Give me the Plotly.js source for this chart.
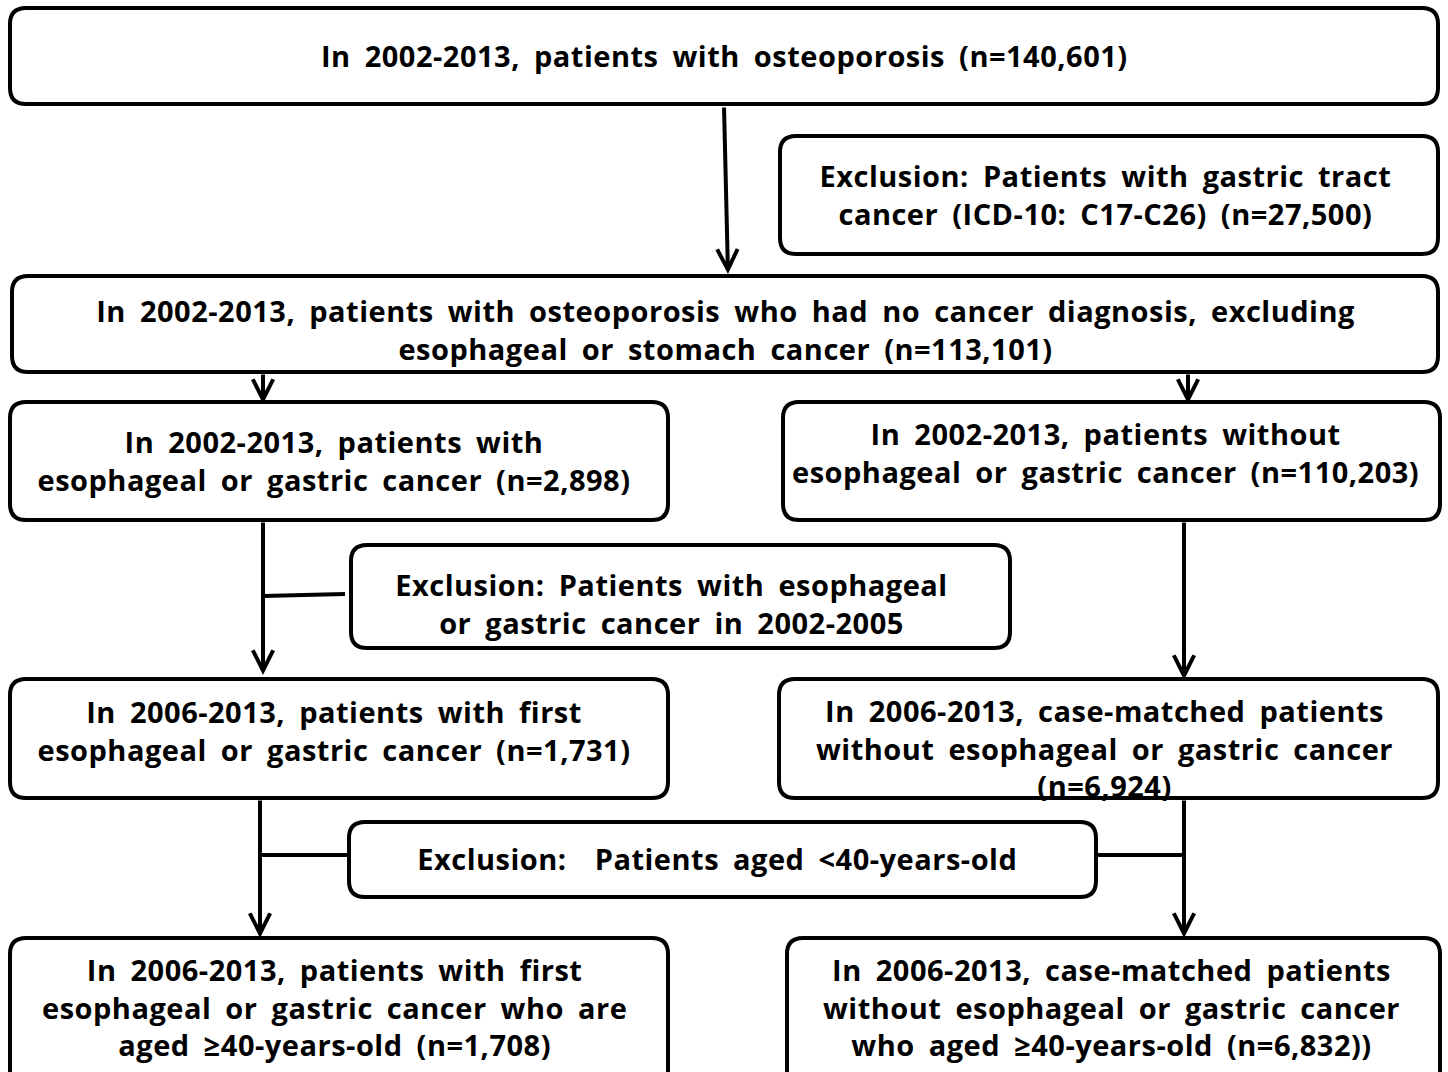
<!DOCTYPE html>
<html>
<head>
<meta charset="utf-8">
<script src="https://cdn.plot.ly/plotly-3.0.1.min.js"></script>
<style>
html,body{margin:0;padding:0;background:#fff;}
#chart{width:1448px;height:1072px;}
#chart .annotation-text{word-spacing:6px;letter-spacing:0.5px;}
</style>
</head>
<body>
<div id="chart"></div>
<script>
// ---- Flowchart content (text of each step) ----
const stepTexts = [
  "In 2002-2013, patients with osteoporosis (n=140,601)",
  "Exclusion: Patients with gastric tract<br>cancer (ICD-10: C17-C26) (n=27,500)",
  "In 2002-2013, patients with osteoporosis who had no cancer diagnosis, excluding<br>esophageal or stomach cancer (n=113,101)",
  "In 2002-2013, patients with<br>esophageal or gastric cancer (n=2,898)",
  "In 2002-2013, patients without<br>esophageal or gastric cancer (n=110,203)",
  "Exclusion: Patients with esophageal<br>or gastric cancer in 2002-2005",
  "In 2006-2013, patients with first<br>esophageal or gastric cancer (n=1,731)",
  "In 2006-2013, case-matched patients<br>without esophageal or gastric cancer<br>(n=6,924)",
  "Exclusion:&nbsp; Patients aged &lt;40-years-old",
  "In 2006-2013, patients with first<br>esophageal or gastric cancer who are<br>aged ≥40-years-old (n=1,708)",
  "In 2006-2013, case-matched patients<br>without esophageal or gastric cancer<br>who aged ≥40-years-old (n=6,832))"
];
const stepCounts = [140601, 27500, 113101, 2898, 110203, null, 1731, 6924, null, 1708, 6832];

// ---- Layout geometry (pixel coordinates on a 1448x1072 canvas) ----
const boxGeom = [
  {x0:10,  x1:1438, y0:8,   y1:104, tx:724,  ty:55},
  {x0:780, x1:1438, y0:136, y1:254, tx:1105, ty:194},
  {x0:12,  x1:1438, y0:276, y1:372, tx:726,  ty:329},
  {x0:10,  x1:668,  y0:402, y1:520, tx:334,  ty:460},
  {x0:783, x1:1440, y0:402, y1:520, tx:1105, ty:452},
  {x0:351, x1:1010, y0:545, y1:648, tx:671,  ty:603},
  {x0:10,  x1:668,  y0:679, y1:798, tx:334,  ty:730},
  {x0:779, x1:1438, y0:679, y1:798, tx:1104, ty:748},
  {x0:349, x1:1096, y0:822, y1:897, tx:717,  ty:858},
  {x0:10,  x1:668,  y0:938, y1:1090,tx:334,  ty:1007},
  {x0:787, x1:1440, y0:938, y1:1090,tx:1111, ty:1007}
];
const arrowGeom = [
  [724,106,728,274],
  [263,373,263,404],
  [1188,373,1188,404],
  [263,521,263,675],
  [1184,521,1184,680],
  [260,799,260,938],
  [1184,799,1184,938]
];
const lineGeom = [
  [263,596,345,594],
  [262,855,349,855],
  [1096,855,1184,855]
];

function roundRect(x0,y0,x1,y1,r){
  return `M${x0+r},${y0} L${x1-r},${y0} Q${x1},${y0} ${x1},${y0+r} L${x1},${y1-r} Q${x1},${y1} ${x1-r},${y1} L${x0+r},${y1} Q${x0},${y1} ${x0},${y1-r} L${x0},${y0+r} Q${x0},${y0} ${x0+r},${y0} Z`;
}

const FONT = {family:"'Open Sans', 'Noto Sans', sans-serif", size:29, color:"#000", weight:700};

const shapes = [];
boxGeom.forEach(b => shapes.push({type:"path", xref:"x", yref:"y", path:roundRect(b.x0,b.y0,b.x1,b.y1,16),
  line:{color:"#000", width:4}, fillcolor:"rgba(255,255,255,0)", layer:"below"}));
lineGeom.forEach(l => shapes.push({type:"line", xref:"x", yref:"y", x0:l[0], y0:l[1], x1:l[2], y1:l[3],
  line:{color:"#000", width:4}}));

const annotations = [];
stepTexts.forEach((t,i) => {
  const b = boxGeom[i];
  annotations.push({x:b.tx, y:b.ty, xref:"x", yref:"y", text:"<b>"+t+"</b>", showarrow:false,
    font:FONT, align:"center", xanchor:"center", yanchor:"middle"});
});
arrowGeom.forEach(a => annotations.push({x:a[2], y:a[3], ax:a[0], ay:a[1], xref:"x", yref:"y", axref:"x", ayref:"y",
  text:"", showarrow:true, arrowhead:5, arrowsize:1, arrowwidth:4, arrowcolor:"#000", standoff:0}));

const layout = {
  width:1448, height:1072,
  margin:{l:0,r:0,t:0,b:0},
  paper_bgcolor:"#fff", plot_bgcolor:"#fff",
  xaxis:{range:[0,1448], visible:false, fixedrange:true},
  yaxis:{range:[1072,0], visible:false, fixedrange:true},
  shapes:shapes, annotations:annotations, showlegend:false
};
Plotly.newPlot("chart", [], layout, {staticPlot:true});
</script>
</body>
</html>
